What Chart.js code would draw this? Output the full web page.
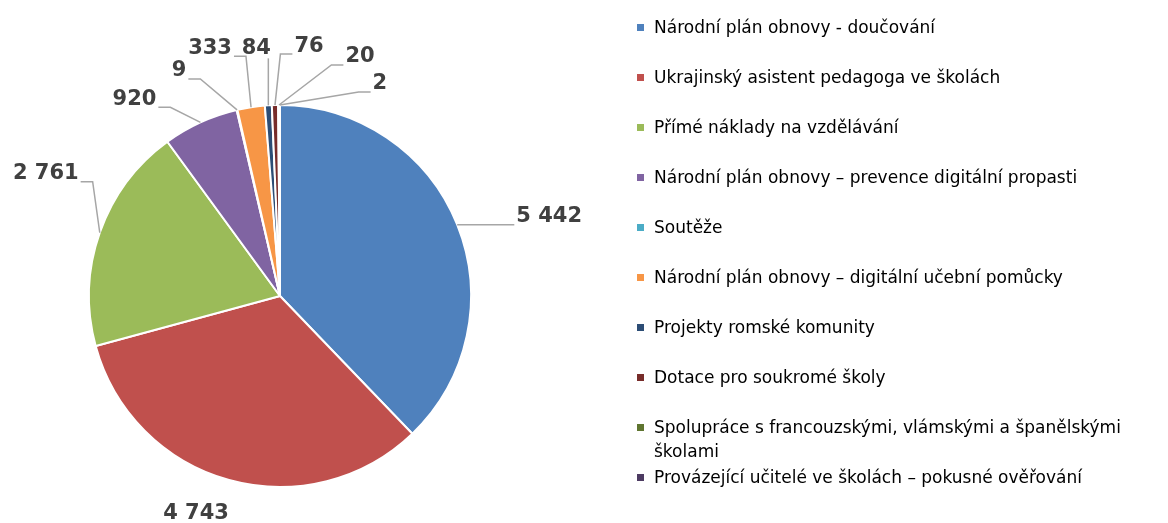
<!DOCTYPE html>
<html>
<head>
<meta charset="utf-8">
<script src="https://cdn.jsdelivr.net/npm/chart.js@4"></script>
<style>
  html, body { margin: 0; padding: 0; background: #fff; }
  #wrap { position: relative; width: 1168px; height: 523px; }
  #legend { position: absolute; left: 0; top: 0; }
  .item { position: absolute; left: 637px; width: 530px; font: 17px "DejaVu Sans", Verdana, sans-serif; line-height: 24px; color: #000; }
  .item .box { position: absolute; left: 0; top: 9px; width: 7px; height: 7px; }
  .item .txt { position: absolute; left: 17px; top: 0; width: 514px; }
</style>
</head>
<body>
<div id="wrap">
  <canvas id="pie" width="1168" height="523"></canvas>
  <div id="legend"></div>
</div>
<script>
const categories = [
  "Národní plán obnovy - doučování",
  "Ukrajinský asistent pedagoga ve školách",
  "Přímé náklady na vzdělávání",
  "Národní plán obnovy – prevence digitální propasti",
  "Soutěže",
  "Národní plán obnovy – digitální učební pomůcky",
  "Projekty romské komunity",
  "Dotace pro soukromé školy",
  "Spolupráce s francouzskými, vlámskými a španělskými školami",
  "Provázející učitelé ve školách – pokusné ověřování"
];
const values = [5442, 4743, 2761, 920, 9, 333, 84, 76, 20, 2];
const colors = ["#4F81BD", "#C0504D", "#9BBB59", "#8064A2", "#4BACC6",
                "#F79646", "#2C4D75", "#772C2A", "#5F7530", "#4D3B62"];

// where each value label sits, relative to the slice's outer midpoint
const labelOffsets = [[92, -8], [-33, 33], [-54, -59], [-66, -23], [-58, -39],
                      [-41, -59], [-12, -57], [34, -59], [81, -48], [100, -21]];
const showLeader = [true, false, true, true, true, true, true, true, true, true];

function fmt(v) {
  return String(v).replace(/\B(?=(\d{3})+(?!\d))/g, " ");
}

const valueLabels = {
  id: "valueLabels",
  afterDatasetsDraw(chart) {
    const ctx = chart.ctx;
    const arcs = chart.getDatasetMeta(0).data;
    ctx.save();
    ctx.font = 'bold 21px "DejaVu Sans", sans-serif';
    ctx.textAlign = "center";
    ctx.textBaseline = "middle";
    arcs.forEach((arc, i) => {
      const { x, y, startAngle, endAngle, outerRadius } = arc.getProps(
        ["x", "y", "startAngle", "endAngle", "outerRadius"], true);
      const mid = (startAngle + endAngle) / 2;
      const ax = x + Math.cos(mid) * outerRadius;
      const ay = y + Math.sin(mid) * outerRadius;
      const cx = ax + labelOffsets[i][0];
      const cy = ay + labelOffsets[i][1];
      const text = fmt(values[i]);
      const w = ctx.measureText(text).width;
      const left = cx - w / 2, right = cx + w / 2;

      if (showLeader[i]) {
        ctx.strokeStyle = "#A6A6A6";
        ctx.lineWidth = 1.5;
        ctx.beginPath();
        const by = cy + 8;
        if (ax >= left && ax <= right) {
          ctx.moveTo(ax, by + 2);
        } else if (ax < left) {
          ctx.moveTo(left - 2, by);
          ctx.lineTo(left - 14, by);
        } else {
          ctx.moveTo(right + 2, by);
          ctx.lineTo(right + 14, by);
        }
        ctx.lineTo(ax, ay);
        ctx.stroke();
      }
      ctx.fillStyle = "#404040";
      ctx.fillText(text, cx, cy);
    });
    ctx.restore();
  }
};

new Chart(document.getElementById("pie"), {
  type: "pie",
  data: {
    labels: categories,
    datasets: [{
      data: values,
      backgroundColor: colors,
      borderColor: "#FFFFFF",
      borderWidth: 2
    }]
  },
  options: {
    responsive: false,
    animation: false,
    layout: { padding: { left: 88, top: 104, right: 696, bottom: 35 } },
    plugins: {
      legend: { display: false },
      tooltip: { enabled: false }
    }
  },
  plugins: [valueLabels]
});

const legend = document.getElementById("legend");
categories.forEach((name, i) => {
  const item = document.createElement("div");
  item.className = "item";
  item.style.top = (15 + 50 * i) + "px";
  const box = document.createElement("span");
  box.className = "box";
  box.style.background = colors[i];
  const txt = document.createElement("span");
  txt.className = "txt";
  txt.textContent = name;
  item.appendChild(box);
  item.appendChild(txt);
  legend.appendChild(item);
});
</script>
</body>
</html>
